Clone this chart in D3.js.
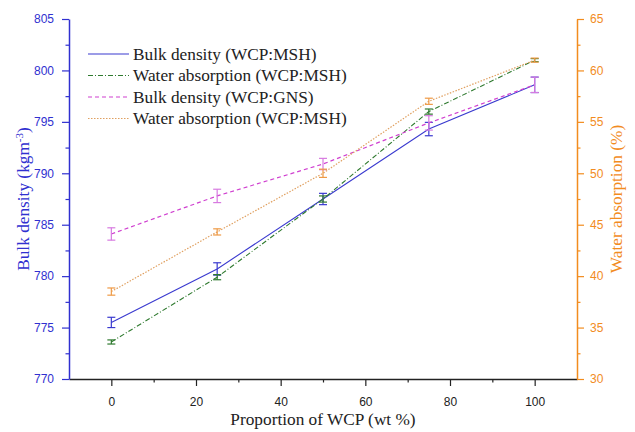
<!DOCTYPE html>
<html>
<head>
<meta charset="utf-8">
<script src="https://cdn.jsdelivr.net/npm/d3@7"></script>
<style>
  body { margin: 0; background: #fff; }
</style>
</head>
<body>
<div id="chart"></div>
<script>
'use strict'

const wcp = [0, 25, 50, 75, 100]

const bulkMsh = [775.5, 780.7, 787.5, 794.3, 798.6]
const bulkMshErr = [0.5, 0.6, 0.55, 0.65, 0.75]

const waterMsh = [33.6, 39.9, 47.5, 56.0, 61.0]
const waterMshErr = [0.2, 0.25, 0.3, 0.25, 0.15]

const bulkGns = [784.1, 787.8, 790.9, 794.9, 798.6]
const bulkGnsErr = [0.6, 0.65, 0.55, 0.7, 0.75]

const waterMsh2 = [38.5, 44.3, 50.0, 57.0, 61.0]
const waterMsh2Err = [0.35, 0.3, 0.4, 0.3, 0.2]

const legendLabels = [
  'Bulk density (WCP:MSH)',
  'Water absorption (WCP:MSH)',
  'Bulk density (WCP:GNS)',
  'Water absorption (WCP:MSH)'
]

const width = 635
const height = 432
const margin = { top: 19, right: 58, bottom: 53, left: 69 }
const innerW = width - margin.left - margin.right
const innerH = height - margin.top - margin.bottom

const SANS = "'Liberation Sans', Arial, sans-serif"
const SERIF = "'Liberation Serif', 'Times New Roman', serif"

const blue = '#3030d0'
const orange = '#f28c1e'

const svg = d3.select('#chart')
  .append('svg')
  .attr('width', width)
  .attr('height', height)

const g = svg.append('g')
  .attr('transform', `translate(${margin.left}, ${margin.top})`)

const xScale = d3.scaleLinear().domain([-10, 110]).range([0, innerW])
const yLeft = d3.scaleLinear().domain([770, 805]).range([innerH, 0])
const yRight = d3.scaleLinear().domain([30, 65]).range([innerH, 0])

// axes: major ticks 7px, minor ticks 3.5px
function styleAxis (sel, color, isMajor, horiz, sign) {
  sel.attr('font-family', SANS).attr('font-size', 12)
  sel.select('.domain').attr('stroke', color).attr('stroke-width', 1.5)
  sel.selectAll('.tick line')
    .attr('stroke', color)
    .attr('stroke-width', 1.2)
    .attr(horiz ? 'y2' : 'x2', d => sign * (isMajor(d) ? 7 : 3.5))
  sel.selectAll('text').attr('fill', color)
}

const xMajor = d => d % 20 === 0 && d >= 0 && d <= 100
const xAxis = g.append('g')
  .attr('transform', `translate(0, ${innerH})`)
  .call(d3.axisBottom(xScale).tickValues(d3.range(0, 101, 10))
    .tickSize(7).tickSizeOuter(0).tickPadding(11)
    .tickFormat(d => xMajor(d) ? d : ''))
styleAxis(xAxis, '#222', xMajor, true, 1)

const yMajor = d => d % 5 === 0
const leftAxis = g.append('g')
  .call(d3.axisLeft(yLeft).tickValues(d3.range(770, 805.1, 2.5))
    .tickSize(7).tickSizeOuter(0).tickPadding(8)
    .tickFormat(d => yMajor(d) ? d : ''))
styleAxis(leftAxis, blue, yMajor, false, -1)

const rightAxis = g.append('g')
  .attr('transform', `translate(${innerW}, 0)`)
  .call(d3.axisRight(yRight).tickValues(d3.range(30, 65.1, 2.5))
    .tickSize(7).tickSizeOuter(0).tickPadding(6)
    .tickFormat(d => yMajor(d) ? d : ''))
styleAxis(rightAxis, orange, yMajor, false, 1)

// axis titles
svg.append('text')
  .attr('x', margin.left + xScale(50))
  .attr('y', 425)
  .attr('text-anchor', 'middle')
  .attr('font-family', SERIF)
  .attr('font-size', 17.3)
  .attr('fill', '#222')
  .text('Proportion of WCP (wt %)')

const leftTitle = svg.append('text')
  .attr('transform', `translate(29, ${margin.top + innerH / 2}) rotate(-90)`)
  .attr('text-anchor', 'middle')
  .attr('font-family', SERIF)
  .attr('font-size', 17.3)
  .attr('fill', blue)
leftTitle.append('tspan').text('Bulk density (kgm')
leftTitle.append('tspan').attr('dy', -6).attr('font-size', 11).text('-3')
leftTitle.append('tspan').attr('dy', 6).text(')')

svg.append('text')
  .attr('transform', `translate(622, ${margin.top + innerH / 2}) rotate(-90)`)
  .attr('text-anchor', 'middle')
  .attr('font-family', SERIF)
  .attr('font-size', 17.3)
  .attr('fill', orange)
  .text('Water absorption (%)')

// series
const series = [
  { vals: bulkMsh, err: bulkMshErr, y: yLeft, color: '#3a3acf', errColor: '#3a3acf', dash: null, w: 1.1 },
  { vals: waterMsh, err: waterMshErr, y: yRight, color: '#2f7a2f', errColor: '#2f7a2f', dash: '5,2,1,2', w: 1.1 },
  { vals: bulkGns, err: bulkGnsErr, y: yLeft, color: '#d040d0', errColor: '#d77ae0', dash: '4,3', w: 1.2 },
  { vals: waterMsh2, err: waterMsh2Err, y: yRight, color: '#e0a060', errColor: '#ef9a45', dash: '1.5,1.5', w: 1.2 }
]

series.forEach(s => {
  const pts = wcp.map((x, i) => ({ x, v: s.vals[i], e: s.err[i] }))
  const line = d3.line().x(d => xScale(d.x)).y(d => s.y(d.v))
  g.append('path')
    .datum(pts)
    .attr('d', line)
    .attr('fill', 'none')
    .attr('stroke', s.color)
    .attr('stroke-width', s.w)
    .attr('stroke-dasharray', s.dash)

  const eb = g.selectAll(null)
    .data(pts)
    .enter()
    .append('g')
    .attr('stroke', s.errColor)
    .attr('stroke-width', 1.2)
  eb.append('line')
    .attr('x1', d => xScale(d.x)).attr('x2', d => xScale(d.x))
    .attr('y1', d => s.y(d.v - d.e)).attr('y2', d => s.y(d.v + d.e))
  eb.append('line')
    .attr('x1', d => xScale(d.x) - 4).attr('x2', d => xScale(d.x) + 4)
    .attr('y1', d => s.y(d.v - d.e)).attr('y2', d => s.y(d.v - d.e))
  eb.append('line')
    .attr('x1', d => xScale(d.x) - 4).attr('x2', d => xScale(d.x) + 4)
    .attr('y1', d => s.y(d.v + d.e)).attr('y2', d => s.y(d.v + d.e))
})

// legend
const legend = svg.append('g').attr('transform', 'translate(88, 54)')
legendLabels.forEach((label, i) => {
  const s = series[i]
  const row = legend.append('g').attr('transform', `translate(0, ${i * 21.5})`)
  row.append('line')
    .attr('x1', 0).attr('x2', 41)
    .attr('stroke', s.color)
    .attr('stroke-width', s.w)
    .attr('stroke-dasharray', s.dash)
  row.append('text')
    .attr('x', 45)
    .attr('y', 5.5)
    .attr('font-family', SERIF)
    .attr('font-size', 17.3)
    .attr('fill', '#222')
    .text(label)
})
</script>
</body>
</html>
